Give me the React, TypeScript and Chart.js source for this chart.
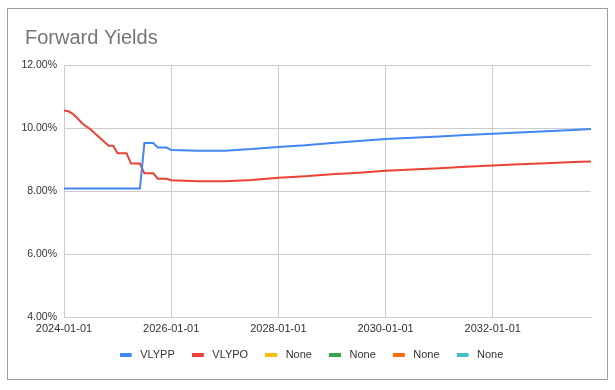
import React, { useEffect, useRef } from 'react';
import { Chart, registerables } from 'chart.js';

Chart.register(...registerables);

const chartTitle = 'Forward Yields';

const dates = [
  '2024-01', '2024-02', '2024-03', '2024-04', '2024-05', '2024-06',
  '2024-07', '2024-08', '2024-09', '2024-10', '2024-11', '2024-12',
  '2025-01', '2025-02', '2025-03', '2025-04', '2025-05', '2025-06',
  '2025-07', '2025-08', '2025-09', '2025-10', '2025-11', '2025-12',
  '2026-01', '2026-07', '2027-01', '2027-07', '2028-01', '2028-07',
  '2029-01', '2029-07', '2030-01', '2030-07', '2031-01', '2031-07',
  '2032-01', '2032-07', '2033-01', '2033-07', '2033-11',
];

const vlypp = [
  8.08, 8.08, 8.08, 8.08, 8.08, 8.08,
  8.08, 8.08, 8.08, 8.08, 8.08, 8.08,
  8.08, 8.08, 8.08, 8.08, 8.08, 8.08,
  9.52, 9.52, 9.52, 9.38, 9.38, 9.38,
  9.30, 9.28, 9.28, 9.33, 9.40, 9.45,
  9.52, 9.59, 9.65, 9.69, 9.73, 9.78,
  9.82, 9.86, 9.90, 9.94, 9.97,
];

const vlypo = [
  10.56, 10.53, 10.45, 10.31, 10.16, 10.05,
  9.95, 9.82, 9.69, 9.56, 9.44, 9.44,
  9.20, 9.20, 9.20, 8.87, 8.87, 8.87,
  8.56, 8.56, 8.56, 8.39, 8.39, 8.39,
  8.34, 8.31, 8.31, 8.35, 8.42, 8.47,
  8.53, 8.58, 8.64, 8.68, 8.72, 8.77,
  8.81, 8.85, 8.88, 8.92, 8.94,
];

const seriesNames = ['VLYPP', 'VLYPO', 'None', 'None', 'None', 'None'];
const seriesColors = ['#4285F4', '#EA4335', '#FBBC04', '#34A853', '#FF6D01', '#46BDC6'];
const yTickValues = [4, 6, 8, 10, 12];
const xTickDates = ['2024-01-01', '2026-01-01', '2028-01-01', '2030-01-01', '2032-01-01'];

const FONT = '"Liberation Sans", Arial, Helvetica, sans-serif';
const TEXT_COLOR = '#333333';

function monthIndex(d: string): number {
  const parts = d.split('-').map(Number);
  return (parts[0] - 2024) * 12 + (parts[1] - 1);
}

function makeSwatch(color: string): HTMLCanvasElement {
  const c = document.createElement('canvas');
  c.width = 15;
  c.height = 4;
  const g = c.getContext('2d');
  if (g) {
    g.fillStyle = color;
    g.fillRect(0, 0, 12, 4);
  }
  return c;
}

export default function App() {
  const canvasRef = useRef<HTMLCanvasElement | null>(null);

  useEffect(() => {
    const canvas = canvasRef.current;
    if (!canvas) return;
    const swatches = seriesColors.map(makeSwatch);
    const seriesValues = [vlypp, vlypo, [], [], [], []];

    const titlePlugin = {
      id: 'fixedTitle',
      afterLayout(chart: any) {
        if (chart.legend) {
          chart.legend.left += 6;
          chart.legend.right += 6;
        }
      },
      afterDraw(chart: any) {
        const ctx = chart.ctx;
        ctx.save();
        ctx.font = '20px ' + FONT;
        ctx.fillStyle = '#757575';
        ctx.textBaseline = 'alphabetic';
        ctx.textAlign = 'left';
        ctx.fillText(chartTitle, 25, 44);
        ctx.restore();
      },
    };

    const chart = new Chart(canvas, {
      type: 'line',
      data: {
        datasets: seriesNames.map((name, i) => ({
          label: name,
          data: (seriesValues[i] as number[]).map((v, j) => ({ x: monthIndex(dates[j]), y: v })),
          borderColor: seriesColors[i],
          backgroundColor: seriesColors[i],
          borderWidth: 2,
          pointRadius: 0,
          pointHoverRadius: 0,
          fill: false,
          tension: 0,
        })),
      },
      options: {
        responsive: false,
        animation: false,
        layout: {
          autoPadding: false,
          padding: { left: 20, right: 24, top: 65, bottom: 20 },
        },
        plugins: {
          title: { display: false },
          tooltip: { enabled: false },
          legend: {
            display: true,
            position: 'bottom',
            labels: {
              usePointStyle: true,
              pointStyleWidth: 15,
              padding: 17,
              color: TEXT_COLOR,
              font: { family: FONT, size: 11 },
              generateLabels: (c: any) =>
                c.data.datasets.map((ds: any, i: number) => ({
                  text: ds.label,
                  pointStyle: swatches[i],
                  fillStyle: seriesColors[i],
                  strokeStyle: seriesColors[i],
                  lineWidth: 0,
                  hidden: false,
                  datasetIndex: i,
                  fontColor: TEXT_COLOR,
                })),
            },
          },
        },
        scales: {
          x: {
            type: 'linear',
            min: 0,
            max: monthIndex('2033-11'),
            afterBuildTicks: (s: any) => {
              s.ticks = xTickDates.map((d) => ({ value: monthIndex(d.slice(0, 7)) }));
            },
            afterFit: (s: any) => {
              s.height = 15;
            },
            grid: { color: '#cccccc', drawTicks: false },
            border: { color: '#cccccc' },
            ticks: {
              color: TEXT_COLOR,
              font: { family: FONT, size: 11 },
              padding: 5,
              maxRotation: 0,
              autoSkip: false,
              callback: (_v: any, idx: number) => xTickDates[idx],
            },
          },
          y: {
            min: 4,
            max: 12,
            afterBuildTicks: (s: any) => {
              s.ticks = yTickValues.map((v) => ({ value: v }));
            },
            afterFit: (s: any) => {
              s.width = 44;
            },
            grid: { color: '#cccccc', drawTicks: false },
            border: { color: '#cccccc' },
            ticks: {
              color: TEXT_COLOR,
              font: { family: FONT, size: 10.5 },
              padding: 7,
              callback: (v: any) => Number(v).toFixed(2) + '%',
            },
          },
        },
      },
      plugins: [titlePlugin],
    } as any);

    return () => {
      chart.destroy();
    };
  }, []);

  return (
    <div style={{ position: 'fixed', left: 0, top: 0, width: 615, height: 390, background: '#ffffff' }}>
      <div
        style={{
          position: 'absolute',
          left: 7,
          top: 8,
          width: 601,
          height: 372,
          boxSizing: 'border-box',
          border: '1px solid #9e9e9e',
        }}
      />
      <canvas
        ref={canvasRef}
        width={615}
        height={390}
        style={{ position: 'absolute', left: 0, top: 0, display: 'block' }}
      />
    </div>
  );
}
